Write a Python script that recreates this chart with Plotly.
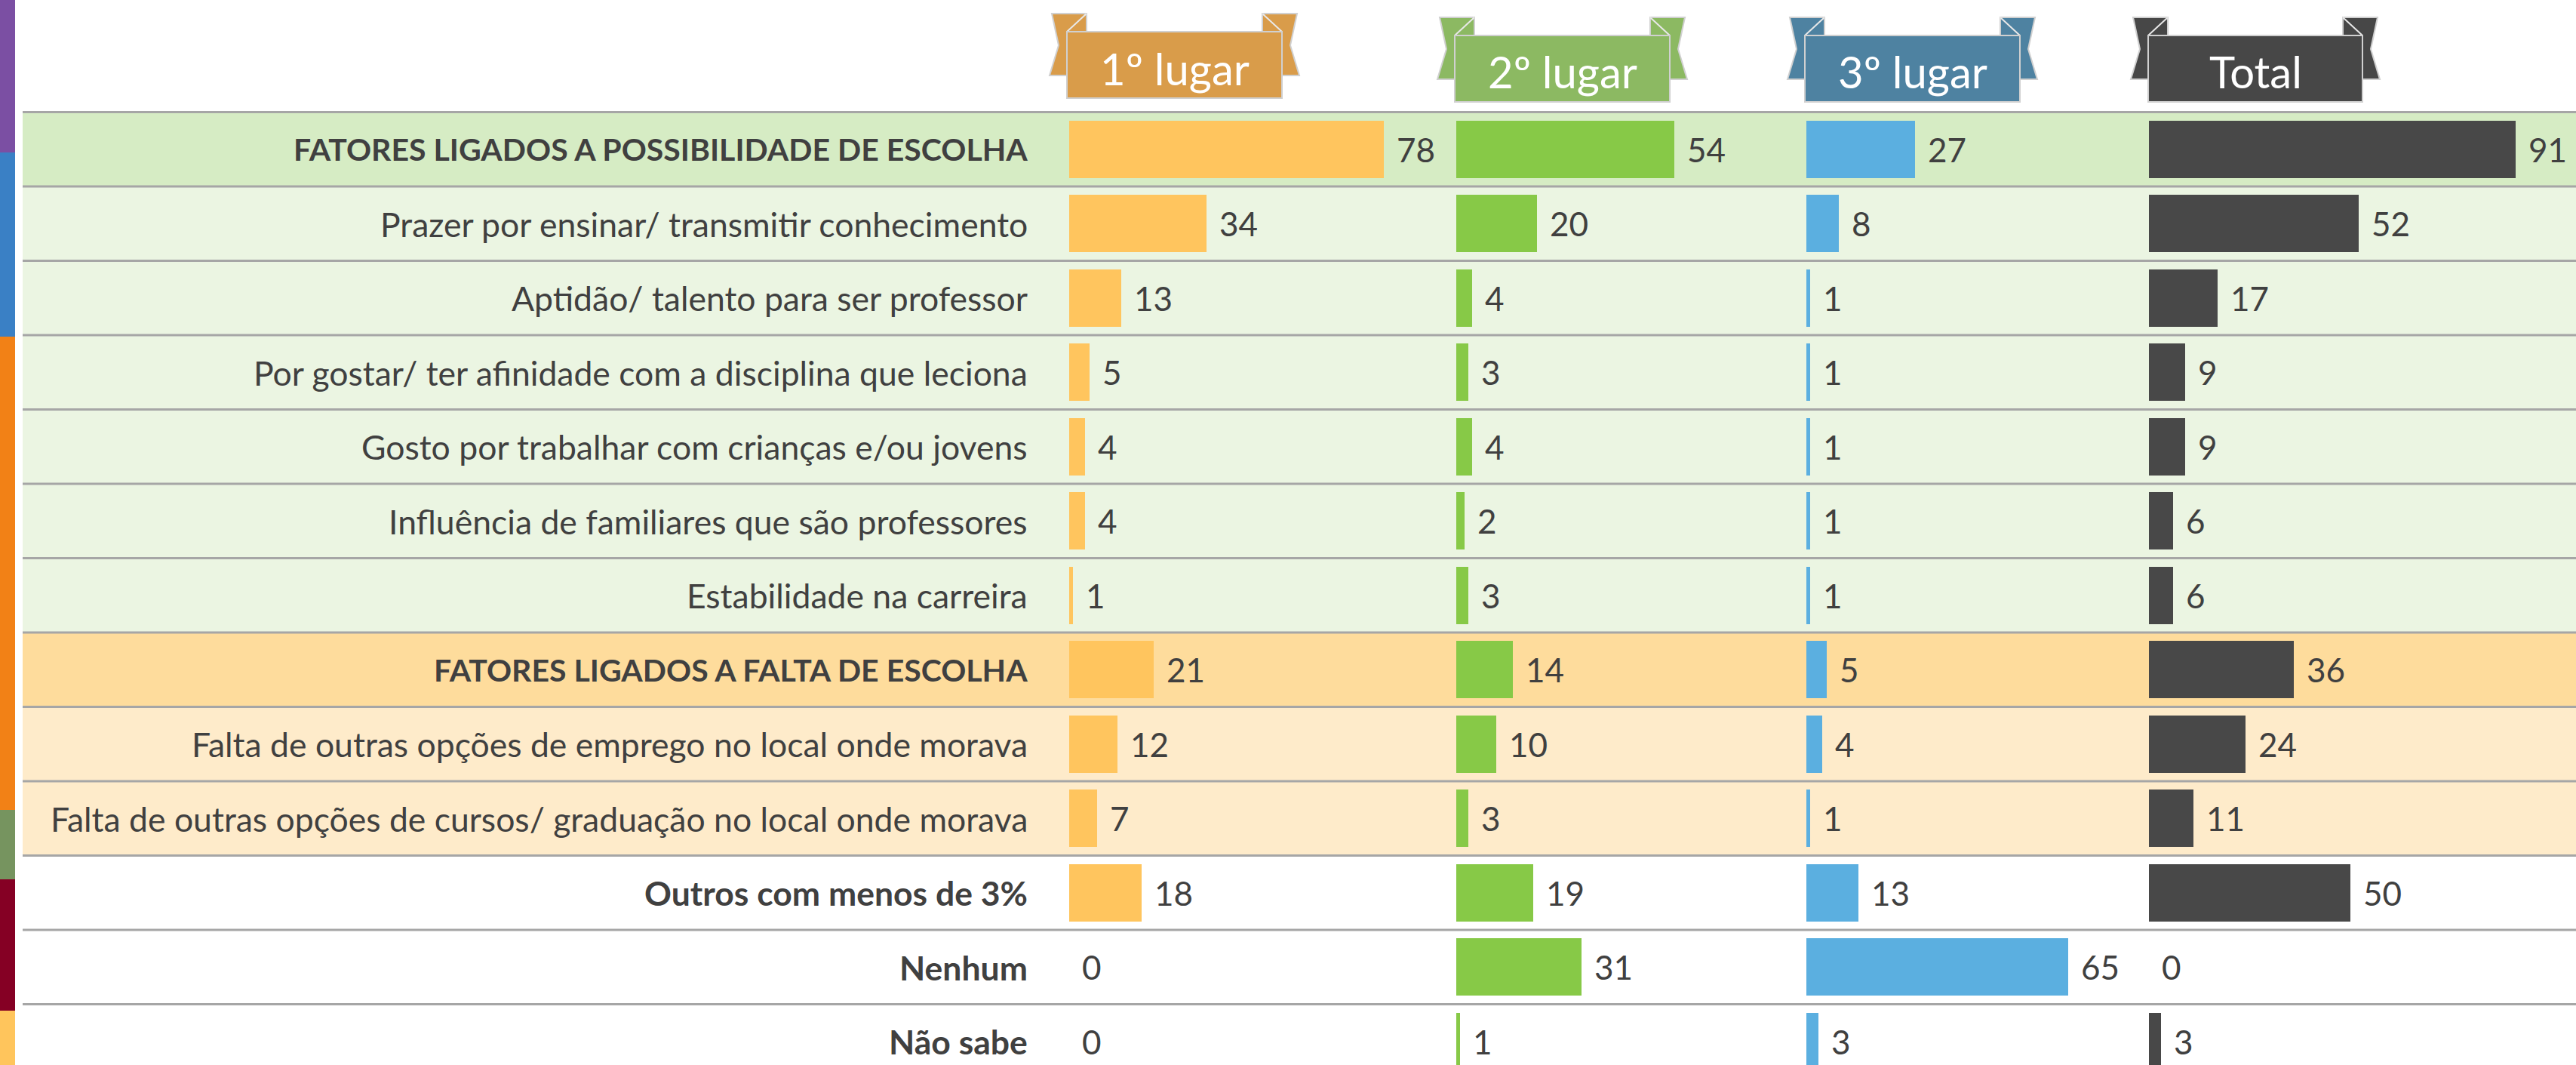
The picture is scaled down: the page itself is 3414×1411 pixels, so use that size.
import plotly.graph_objects as go

# ---------------- data ----------------
categories = [
    "FATORES LIGADOS A POSSIBILIDADE DE ESCOLHA",
    "Prazer por ensinar/ transmitir conhecimento",
    "Aptidão/ talento para ser professor",
    "Por gostar/ ter afinidade com a disciplina que leciona",
    "Gosto por trabalhar com crianças e/ou jovens",
    "Influência de familiares que são professores",
    "Estabilidade na carreira",
    "FATORES LIGADOS A FALTA DE ESCOLHA",
    "Falta de outras opções de emprego no local onde morava",
    "Falta de outras opções de cursos/ graduação no local onde morava",
    "Outros com menos de 3%",
    "Nenhum",
    "Não sabe",
]
bold_rows = [0, 7, 10, 11, 12]
caps_rows = [0, 7]
lugar1 = [78, 34, 13, 5, 4, 4, 1, 21, 12, 7, 18, 0, 0]
lugar2 = [54, 20, 4, 3, 4, 2, 3, 14, 10, 3, 19, 31, 1]
lugar3 = [27, 8, 1, 1, 1, 1, 1, 5, 4, 1, 13, 65, 3]
total = [91, 52, 17, 9, 9, 6, 6, 36, 24, 11, 50, 0, 3]
series_names = ["1º lugar", "2º lugar", "3º lugar", "Total"]

# ---------------- styles ----------------
W, H = 3414, 1411
FONT = "Lato"
bar_colors = ["#FFC55E", "#87C947", "#5BAFE0", "#484848"]
ribbon_colors = ["#D99C4A", "#8CB962", "#4E82A1", "#474747"]
col_left = [1417, 1930, 2394, 2848]
col_width = [500, 450, 440, 560]
ribbon_rect = [(1414, 1699, 42), (1928, 2213, 47), (2392, 2677, 47), (2847, 3131, 47)]
PX_PER_UNIT = 5.345
row_top, row_h = 148.5, 98.5
n = len(categories)
row_fill = ["#D6ECC4"] + ["#EBF5E2"] * 6 + ["#FEDC9C"] + ["#FEEBCA"] * 2 + ["#FFFFFF"] * 3
strip = [(0, 202, "#7B4FA3"), (202, 446, "#3A80C5"), (446, 1073, "#F28116"),
         (1073, 1165, "#76945F"), (1165, 1339, "#850024"), (1339, 1411, "#FFC55C")]


def px(x):
    return x / W


def py(y):
    return 1 - y / H


series = [lugar1, lugar2, lugar3, total]
fig = go.Figure()
layout_axes = {}
for j, vals in enumerate(series):
    xid = "x" if j == 0 else f"x{j+1}"
    fig.add_trace(go.Bar(
        x=vals, y=categories, orientation="h", xaxis=xid, yaxis="y",
        marker=dict(color=bar_colors[j], line=dict(width=0)),
        width=0.77, hoverinfo="skip", showlegend=False,
    ))
    key = "xaxis" if j == 0 else f"xaxis{j+1}"
    layout_axes[key] = dict(
        domain=[px(col_left[j]), px(col_left[j] + col_width[j])],
        range=[0, col_width[j] / PX_PER_UNIT], visible=False, anchor="y",
        fixedrange=True, showgrid=False, zeroline=False,
    )

y_lo = -0.5 - row_top / row_h
y_hi = (H - row_top) / row_h - 0.5
layout_axes["yaxis"] = dict(
    type="category", categoryorder="array", categoryarray=categories,
    range=[y_hi, y_lo], autorange=False, visible=False, domain=[0, 1],
    anchor="x", fixedrange=True, showgrid=False, zeroline=False,
)

shapes = []
for i in range(n):
    shapes.append(dict(type="rect", xref="paper", yref="y", x0=px(30), x1=1,
                       y0=i - 0.5, y1=i + 0.5, fillcolor=row_fill[i],
                       line=dict(width=0), layer="below"))
for i in range(n + 1):
    shapes.append(dict(type="line", xref="paper", yref="y", x0=px(30), x1=1,
                       y0=i - 0.5, y1=i - 0.5, line=dict(color="#A6A6A6", width=3),
                       layer="below"))
for y0, y1, c in strip:
    shapes.append(dict(type="rect", xref="paper", yref="paper", x0=0, x1=px(20),
                       y0=py(y1), y1=py(y0), fillcolor=c, line=dict(width=0)))


def path(points):
    return "M " + " L ".join(f"{px(x):.6f},{py(y):.6f}" for x, y in points) + " Z"


edge = dict(color="#D0D0D0", width=2)
for (x0, x1, t), c in zip(ribbon_rect, ribbon_colors):
    xo_l, xo_r = x0 - 23, x1 + 23
    left = [(xo_l + 3, t - 24), (x0 + 26, t - 24), (x0 + 26, t + 58), (xo_l, t + 58), (xo_l + 12, t + 18)]
    right = [(x1 - 26, t - 24), (xo_r - 3, t - 24), (xo_r - 12, t + 18), (xo_r, t + 58), (x1 - 26, t + 58)]
    for pts in (left, right):
        shapes.append(dict(type="path", xref="paper", yref="paper", path=path(pts),
                           fillcolor=c, line=edge, layer="above"))
    shapes.append(dict(type="line", xref="paper", yref="paper", x0=px(x0 + 26), y0=py(t - 24),
                       x1=px(x0), y1=py(t), line=dict(color="#E8E8E8", width=2), layer="above"))
    shapes.append(dict(type="line", xref="paper", yref="paper", x0=px(x1 - 26), y0=py(t - 24),
                       x1=px(x1), y1=py(t), line=dict(color="#E8E8E8", width=2), layer="above"))
    shapes.append(dict(type="rect", xref="paper", yref="paper", x0=px(x0), x1=px(x1),
                       y0=py(t + 88), y1=py(t), fillcolor=c, line=edge, layer="above"))

annotations = []
for i, cat in enumerate(categories):
    txt = f"<b>{cat}</b>" if i in bold_rows else cat
    size = 41 if i in caps_rows else 44.5
    annotations.append(dict(xref="paper", yref="y", x=px(1364), y=i, text=txt,
                            xanchor="right", yanchor="middle", showarrow=False,
                            font=dict(family=FONT, size=size, color="#404040")))
for j, vals in enumerate(series):
    xid = "x" if j == 0 else f"x{j+1}"
    for i, v in enumerate(vals):
        annotations.append(dict(xref=xid, yref="y", x=v, y=i, text=str(v), xanchor="left",
                                yanchor="middle", xshift=15, showarrow=False,
                                font=dict(family=FONT, size=44, color="#404040")))
for (x0, x1, t), name in zip(ribbon_rect, series_names):
    annotations.append(dict(xref="paper", yref="paper", x=px((x0 + x1) / 2), y=py(t + 48),
                            text=name, xanchor="center", yanchor="middle", showarrow=False,
                            font=dict(family=FONT, size=58, color="#FFFFFF")))

fig.update_layout(
    width=W, height=H, margin=dict(l=0, r=0, t=0, b=0, pad=0),
    paper_bgcolor="#FFFFFF", plot_bgcolor="rgba(0,0,0,0)",
    shapes=shapes, annotations=annotations, bargap=0,
    **layout_axes,
)
fig.write_html("out.html", config={"displayModeBar": False},
               post_script="document.body.style.margin='0';document.body.style.overflow='hidden';")
